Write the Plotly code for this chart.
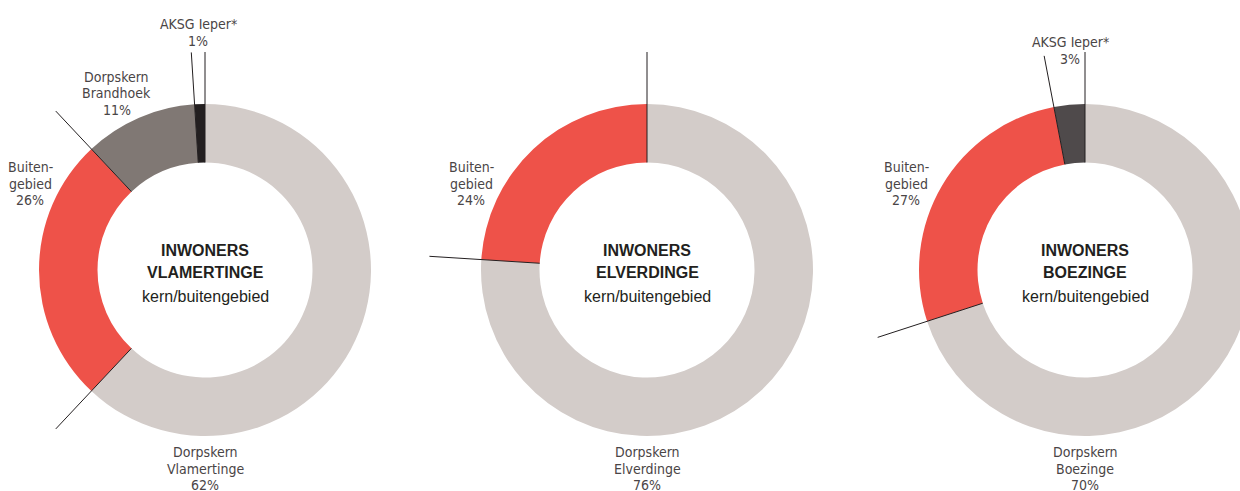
import math
import plotly.graph_objects as go

# ---- data -------------------------------------------------------------
towns = ["VLAMERTINGE", "ELVERDINGE", "BOEZINGE"]

vlamertinge_labels = ["Dorpskern Vlamertinge", "Buitengebied", "Dorpskern Brandhoek", "AKSG Ieper*"]
vlamertinge_values = [62, 26, 11, 1]

elverdinge_labels = ["Dorpskern Elverdinge", "Buitengebied"]
elverdinge_values = [76, 24]

boezinge_labels = ["Dorpskern Boezinge", "Buitengebied", "AKSG Ieper*"]
boezinge_values = [70, 27, 3]

# label text broken over lines as printed next to each slice
vlamertinge_text = [["Dorpskern", "Vlamertinge"], ["Buiten-", "gebied"], ["Dorpskern", "Brandhoek"], ["AKSG Ieper*"]]
elverdinge_text = [["Dorpskern", "Elverdinge"], ["Buiten-", "gebied"]]
boezinge_text = [["Dorpskern", "Boezinge"], ["Buiten-", "gebied"], ["AKSG Ieper*"]]

# ---- styling / layout -------------------------------------------------
W, H = 1256, 491
R_OUT, R_IN, R_LEAD = 166, 107.5, 218
CY = 270
centers_x = [205, 647, 1085]

vlamertinge_colors = ["#d3ccc9", "#ee5249", "#807874", "#231f20"]
elverdinge_colors = ["#d3ccc9", "#ee5249"]
boezinge_colors = ["#d3ccc9", "#ee5249", "#4f4a4b"]

# where each slice label sits (pixel centre of first line)
vlamertinge_pos = [(205, 452), (30, 167), (117, 77), (198, 24)]
elverdinge_pos = [(647, 452), (471, 167)]
boezinge_pos = [(1085, 452), (906, 167), (1070, 42)]

LABEL_FONT = dict(family="Liberation Sans Narrow, Arial Narrow, DejaVu Sans Condensed, sans-serif",
                  size=14, color="#4a4546")
LABEL_STEP = 16.5
TITLE_BOLD = dict(family="Liberation Sans, Arial, Helvetica, sans-serif", size=16, color="#231f20")
TITLE_REG = dict(family="Liberation Sans, Arial, Helvetica, sans-serif", size=16, color="#231f20")

donuts = [
    (vlamertinge_labels, vlamertinge_values, vlamertinge_colors, vlamertinge_text, vlamertinge_pos),
    (elverdinge_labels, elverdinge_values, elverdinge_colors, elverdinge_text, elverdinge_pos),
    (boezinge_labels, boezinge_values, boezinge_colors, boezinge_text, boezinge_pos),
]


def px(x, y):
    """Pixel position on the page -> paper coordinates."""
    return x / W, 1 - y / H


fig = go.Figure()
annotations = []
shapes = []


def add_lines(x, y, lines, font, step):
    for i, line in enumerate(lines):
        ax, ay = px(x, y + i * step)
        annotations.append(dict(x=ax, y=ay, xref="paper", yref="paper", text=line,
                                showarrow=False, xanchor="center", yanchor="middle", font=font))


for (labels, values, colors, texts, positions), cx, town in zip(donuts, centers_x, towns):
    x0, _ = px(cx - R_OUT, 0)
    x1, _ = px(cx + R_OUT, 0)
    _, y0 = px(0, CY + R_OUT)
    _, y1 = px(0, CY - R_OUT)
    fig.add_trace(go.Pie(
        labels=labels, values=values, hole=R_IN / R_OUT, sort=False,
        direction="clockwise", rotation=0, textinfo="none",
        marker=dict(colors=colors, line=dict(width=0)),
        domain=dict(x=[x0, x1], y=[y0, y1]), showlegend=False,
        hovertemplate="%{label}: %{value}%<extra></extra>",
    ))

    # leader lines along every slice boundary
    total = sum(values)
    cum = 0
    for v in values:
        cum += v
        ang = math.radians(360 * cum / total)
        sx, sy = math.sin(ang), math.cos(ang)
        ax0, ay0 = px(cx + R_IN * sx, CY - R_IN * sy)
        ax1, ay1 = px(cx + R_LEAD * sx, CY - R_LEAD * sy)
        shapes.append(dict(type="line", xref="paper", yref="paper", x0=ax0, y0=ay0, x1=ax1, y1=ay1,
                           line=dict(color="#231f20", width=1), layer="above"))

    # slice labels
    for t, v, (lx, ly) in zip(texts, values, positions):
        add_lines(lx, ly, t + [f"{v}%"], LABEL_FONT, LABEL_STEP)

    # centre title
    add_lines(cx, 250, ["<b>INWONERS</b>", f"<b>{town}</b>"], TITLE_BOLD, 22.5)
    add_lines(cx, 296, ["kern/buitengebied"], TITLE_REG, 0)

fig.update_layout(
    width=W, height=H, margin=dict(l=0, r=0, t=0, b=0),
    paper_bgcolor="white", plot_bgcolor="white",
    annotations=annotations, shapes=shapes,
)

fig.write_html(
    "out.html",
    post_script="document.documentElement.style.overflow='hidden';"
                "document.body.style.overflow='hidden';document.body.style.margin='0';",
)
